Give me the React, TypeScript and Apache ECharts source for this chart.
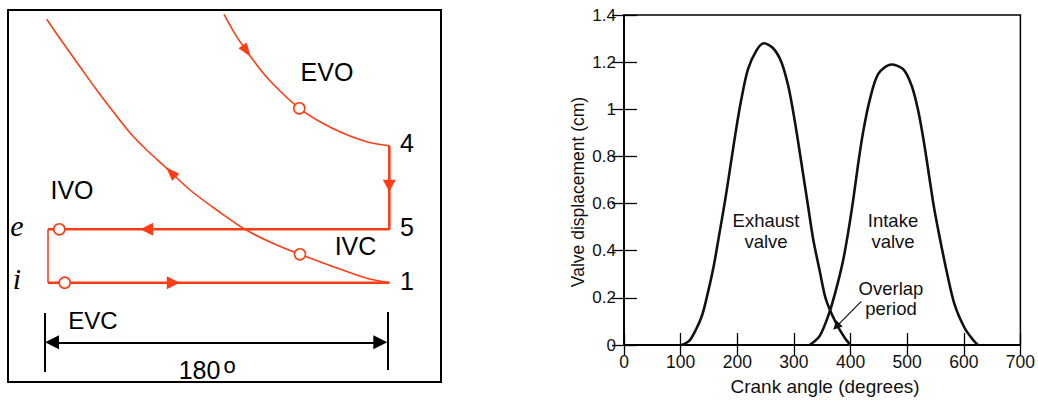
import { useEffect, useRef } from 'react';
import * as echarts from 'echarts';

const FONT = '"Liberation Sans", Arial, Helvetica, sans-serif';
const SERIF = '"Liberation Serif", "Times New Roman", serif';
const RED = '#ff3c14';
const INK = '#111';

// ---------- Right panel: valve lift vs crank angle ----------
const crankAngleTicks = [0, 100, 200, 300, 400, 500, 600, 700];
const liftTicks = [0, 0.2, 0.4, 0.6, 0.8, 1, 1.2, 1.4];

const exhaustAngle = [102, 116, 128, 137, 144, 158, 169, 179, 188, 197, 207, 219, 234, 247, 263, 278, 290, 298, 307, 316, 325, 334, 346, 357, 375, 390, 400];
const exhaustLift = [0, 0.02, 0.07, 0.12, 0.18, 0.33, 0.48, 0.62, 0.76, 0.9, 1.04, 1.17, 1.25, 1.28, 1.26, 1.2, 1.1, 1.0, 0.87, 0.73, 0.59, 0.45, 0.31, 0.19, 0.09, 0.03, 0];

const intakeAngle = [328, 346, 363, 375, 387, 396, 405, 413, 422, 434, 449, 472, 493, 508, 519, 529, 538, 547, 558, 570, 584, 602, 617, 625];
const intakeLift = [0, 0.04, 0.14, 0.24, 0.36, 0.48, 0.62, 0.76, 0.9, 1.04, 1.15, 1.19, 1.17, 1.1, 1.0, 0.87, 0.73, 0.59, 0.45, 0.31, 0.17, 0.07, 0.02, 0];

const overlapPointer = [[419, 0.185], [375, 0.078]];

// ---------- Left panel: schematic p-V loop (diagram units) ----------
const schematicWidth = 433;
const schematicHeight = 372;

const compressionV = [38.7, 55.3, 72, 88.7, 105.3, 122, 138.7, 158.7, 182, 208.7, 237, 265.3, 292, 325.3, 358.7, 381.5];
const compressionP = [9.3, 33.3, 56.7, 80, 101.7, 122.7, 140, 158.3, 180, 200, 219.3, 233.5, 244.3, 256.7, 268.3, 272.7];

const expansionV = [216, 228.7, 240.3, 255.3, 272, 291.3, 312, 335.3, 358.7, 381.3];
const expansionP = [4.3, 26.7, 43.3, 63.3, 81, 98.3, 111.7, 123.3, 131.7, 135.7];

const exhaustStroke = [[381.3, 135.7], [381.3, 219.3], [40, 219.3]];
const valveSwitch = [[40, 219.3], [40, 272.7]];
const intakeStroke = [[40, 272.7], [381.5, 272.7]];

const valveEventPoints = [[291.3, 98.3], [292, 244.3], [51.3, 219.3], [56.7, 272.7]];

const flowArrows = [
  { at: [238.6, 41], rotate: -145, size: [10, 14] },
  { at: [162.9, 162.3], rotate: 44, size: [10, 14] },
  { at: [381.3, 175.7], rotate: 180, size: [13, 12] },
  { at: [138.7, 219.3], rotate: 90, size: [13, 13] },
  { at: [165.3, 272.7], rotate: -90, size: [13, 13] },
];

const strokeBars = [
  [[37, 303], [37, 362]],
  [[379.3, 302], [379.3, 360]],
];
const strokeSpan = [[44, 332.3], [372.3, 332.3]];

const zip = (xs: number[], ys: number[]) => xs.map((x, i) => [x, ys[i]]);

const leftTexts = [
  { text: 'EVO', x: 327, y: 71.5 },
  { text: '4', x: 407, y: 143 },
  { text: '5', x: 407, y: 227 },
  { text: '1', x: 407, y: 281 },
  { text: 'IVO', x: 72, y: 189.5 },
  { text: 'IVC', x: 355.5, y: 245.5 },
  { text: 'EVC', x: 93, y: 320, size: 24 },
  { text: '180', x: 199.5, y: 370, size: 25 },
];

export default function App() {
  const ref = useRef<HTMLDivElement>(null);

  useEffect(() => {
    if (!ref.current) return;
    const chart = echarts.init(ref.current, null, { renderer: 'svg' });

    const xMin = crankAngleTicks[0];
    const xMax = crankAngleTicks[crankAngleTicks.length - 1];
    const xStep = crankAngleTicks[1] - crankAngleTicks[0];
    const yMin = liftTicks[0];
    const yMax = liftTicks[liftTicks.length - 1];
    const yStep = liftTicks[1] - liftTicks[0];

    const tickInside = { show: true, inside: true, length: 12, lineStyle: { color: '#000', width: 1.3 } };
    const axisLine = { show: true, lineStyle: { color: '#000', width: 1.5 } };

    const graphics: any[] = [];
    leftTexts.forEach((t) => {
      graphics.push({
        type: 'text',
        x: t.x,
        y: t.y,
        style: {
          text: t.text,
          fill: '#000',
          font: `${t.size || 25}px ${FONT}`,
          align: 'center',
          verticalAlign: 'middle',
        },
      });
    });
    graphics.push({
      type: 'text', x: 229.5, y: 365,
      style: { text: 'o', fill: '#000', font: `22px ${FONT}`, align: 'center', verticalAlign: 'middle' },
    });
    graphics.push({
      type: 'text', x: 17, y: 225,
      style: { text: 'e', fill: '#000', font: `italic 30px ${SERIF}`, align: 'center', verticalAlign: 'middle' },
    });
    graphics.push({
      type: 'text', x: 17, y: 278,
      style: { text: 'i', fill: '#000', font: `italic 30px ${SERIF}`, align: 'center', verticalAlign: 'middle' },
    });
    // right panel annotations
    const ann = (text: string, x: number, y: number, lh: number) => ({
      type: 'text', x, y,
      style: { text, fill: INK, font: `18.5px ${FONT}`, align: 'center', verticalAlign: 'middle', lineHeight: lh },
    });
    graphics.push(ann('Exhaust\nvalve', 766, 231, 21));
    graphics.push(ann('Intake\nvalve', 893, 231, 21));
    graphics.push(ann('Overlap\nperiod', 891, 298, 20));
    graphics.push({
      type: 'text', x: 825, y: 386,
      style: { text: 'Crank angle (degrees)', fill: INK, font: `19px ${FONT}`, align: 'center', verticalAlign: 'middle' },
    });
    graphics.push({
      type: 'text', x: 578, y: 192, rotation: Math.PI / 2,
      style: { text: 'Valve displacement (cm)', fill: INK, font: `17.5px ${FONT}`, align: 'center', verticalAlign: 'middle' },
    });

    const option: any = {
      animation: false,
      backgroundColor: '#fff',
      grid: [
        { left: 8, top: 10, width: schematicWidth, height: schematicHeight, show: true, borderColor: '#000', borderWidth: 2, containLabel: false },
        { left: 624, top: 15, width: 397, height: 330, show: true, borderColor: '#000', borderWidth: 1.5, containLabel: false },
      ],
      xAxis: [
        { type: 'value', gridIndex: 0, min: 0, max: schematicWidth, show: false },
        {
          type: 'value', gridIndex: 1, min: xMin, max: xMax, interval: xStep,
          axisLine, axisTick: tickInside, splitLine: { show: false },
          axisLabel: { color: INK, fontSize: 17.5, fontFamily: FONT, margin: 8 },
        },
        {
          type: 'value', gridIndex: 1, position: 'top', min: xMin, max: xMax, interval: xStep,
          axisLine, axisTick: { ...tickInside, length: 10 }, splitLine: { show: false }, axisLabel: { show: false },
        },
      ],
      yAxis: [
        { type: 'value', gridIndex: 0, min: 0, max: schematicHeight, inverse: true, show: false },
        {
          type: 'value', gridIndex: 1, min: yMin, max: yMax, interval: yStep,
          axisLine, axisTick: { ...tickInside, length: 13 }, splitLine: { show: false },
          axisLabel: { color: INK, fontSize: 17, fontFamily: FONT, margin: 8, padding: [6, 0, 0, 0] },
        },
        {
          type: 'value', gridIndex: 1, position: 'right', min: yMin, max: yMax, interval: yStep,
          axisLine, axisTick: tickInside, splitLine: { show: false }, axisLabel: { show: false },
        },
      ],
      series: [
        // ----- left schematic -----
        {
          type: 'line', xAxisIndex: 0, yAxisIndex: 0, data: zip(compressionV, compressionP),
          smooth: 0.3, symbol: 'none', lineStyle: { color: RED, width: 1.6 }, z: 2,
        },
        {
          type: 'line', xAxisIndex: 0, yAxisIndex: 0, data: zip(expansionV, expansionP),
          smooth: 0.3, symbol: 'none', lineStyle: { color: RED, width: 1.6 }, z: 2,
        },
        {
          type: 'line', xAxisIndex: 0, yAxisIndex: 0, data: exhaustStroke,
          symbol: 'none', lineStyle: { color: RED, width: 2.6 }, z: 2,
        },
        {
          type: 'line', xAxisIndex: 0, yAxisIndex: 0, data: valveSwitch,
          symbol: 'none', lineStyle: { color: RED, width: 1.6 }, z: 2,
        },
        {
          type: 'line', xAxisIndex: 0, yAxisIndex: 0, data: intakeStroke,
          symbol: 'none', lineStyle: { color: RED, width: 2.6 }, z: 2,
        },
        {
          type: 'scatter', xAxisIndex: 0, yAxisIndex: 0,
          data: flowArrows.map((a) => ({ value: a.at, symbolRotate: a.rotate, symbolSize: a.size })),
          symbol: 'triangle', itemStyle: { color: RED, opacity: 1 }, z: 4,
        },
        {
          type: 'scatter', xAxisIndex: 0, yAxisIndex: 0, data: valveEventPoints,
          symbol: 'circle', symbolSize: 11,
          itemStyle: { color: '#fff', borderColor: RED, borderWidth: 1.6, opacity: 1 }, z: 5,
        },
        {
          type: 'lines', coordinateSystem: 'cartesian2d', xAxisIndex: 0, yAxisIndex: 0,
          data: strokeBars.map((c) => ({ coords: c })), symbol: ['none', 'none'],
          lineStyle: { color: '#000', width: 2, opacity: 1 }, z: 3,
        },
        {
          type: 'lines', coordinateSystem: 'cartesian2d', xAxisIndex: 0, yAxisIndex: 0,
          data: [{ coords: strokeSpan }], symbol: ['triangle', 'triangle'], symbolSize: 14,
          lineStyle: { color: '#000', width: 2, opacity: 1 }, itemStyle: { color: '#000' }, z: 3,
        },
        // ----- right chart -----
        {
          name: 'Exhaust valve', type: 'line', xAxisIndex: 1, yAxisIndex: 1, data: zip(exhaustAngle, exhaustLift),
          smooth: 0.3, symbol: 'none', lineStyle: { color: '#111', width: 2.6 },
        },
        {
          name: 'Intake valve', type: 'line', xAxisIndex: 1, yAxisIndex: 1, data: zip(intakeAngle, intakeLift),
          smooth: 0.3, symbol: 'none', lineStyle: { color: '#111', width: 2.6 },
        },
        {
          type: 'lines', coordinateSystem: 'cartesian2d', xAxisIndex: 1, yAxisIndex: 1,
          data: [{ coords: overlapPointer }], symbol: ['none', 'triangle'], symbolSize: 9,
          lineStyle: { color: '#111', width: 1.2, opacity: 1 }, itemStyle: { color: '#111' }, z: 4,
        },
      ],
      graphic: graphics,
    };

    chart.setOption(option);
    return () => chart.dispose();
  }, []);

  return (
    <div
      ref={ref}
      style={{ position: 'fixed', left: 0, top: 0, width: 1038, height: 401, background: '#fff' }}
    />
  );
}
